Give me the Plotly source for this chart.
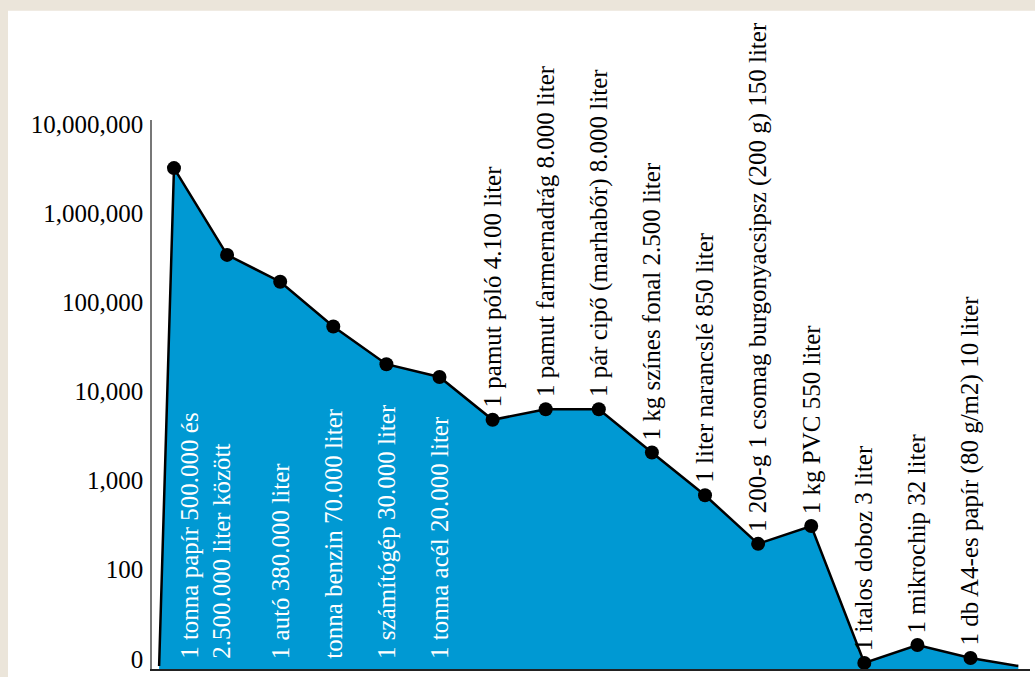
import math
import plotly.graph_objects as go

# ---- data -------------------------------------------------------------
items = [
    "1 tonna papír", "1 autó", "tonna benzin", "1 számítógép", "1 tonna acél",
    "1 tonna acél (2)", "1 pamut póló", "1 pamut farmernadrág", "1 pár cipő",
    "1 kg színes fonal", "1 liter narancslé", "1 csomag burgonyacsipsz",
    "1 kg PVC", "1 italos doboz", "1 mikrochip", "1 db A4-es papír",
]
water_liters = [3200000, 340000, 170000, 53500, 20200, 14500, 4800, 6300,
                6300, 2060, 684, 195, 309, 9, 14.3, 10.2]

tick_values = [10, 100, 1000, 10000, 100000, 1000000, 10000000]
tick_labels = ["0", "100", "1,000", "10,000", "100,000", "1,000,000", "10,000,000"]

inside_labels = [
    "1 tonna papír 500.000 és<br>2.500.000 liter között",
    "1 autó 380.000 liter",
    "tonna benzin 70.000 liter",
    "1 számítógép 30.000 liter",
    "1 tonna acél 20.000 liter",
]
outside_labels = [
    "1 pamut póló 4.100 liter",
    "1 pamut farmernadrág 8.000 liter",
    "1 pár cipő (marhabőr) 8.000 liter",
    "1 kg színes fonal 2.500 liter",
    "1 liter narancslé 850 liter",
    "1 200-g 1 csomag burgonyacsipsz (200 g) 150 liter",
    "1 kg PVC 550 liter",
    "1 italos doboz 3 liter",
    "1 mikrochip 32 liter",
    "1 db A4-es papír (80 g/m2) 10 liter",
]

# ---- layout constants ---------------------------------------------------
FONT = "Liberation Serif, Times New Roman, serif"
BLUE = "#0099D3"
BEIGE = "#EBE5DA"
Y_LOG_MIN, Y_LOG_MAX = 0.886, 7.0445
X_MIN, X_MAX = -0.414, 16.12
AREA_START, AREA_END = -0.28, 15.9
OUTLINE_BASE = 10 ** 0.92
FILL_BASE = 10 ** Y_LOG_MIN

xs = list(range(len(water_liters)))

fig = go.Figure()

# filled area
fig.add_trace(go.Scatter(
    x=[AREA_START] + xs + [AREA_END, AREA_END, AREA_START],
    y=[OUTLINE_BASE] + water_liters + [OUTLINE_BASE, FILL_BASE, FILL_BASE],
    fill="toself", fillcolor=BLUE, mode="lines", line=dict(width=0),
    hoverinfo="skip",
))
# outline
fig.add_trace(go.Scatter(
    x=[AREA_START] + xs + [AREA_END],
    y=[OUTLINE_BASE] + water_liters + [OUTLINE_BASE],
    mode="lines", line=dict(color="black", width=2.5),
    hoverinfo="skip",
))
# markers
fig.add_trace(go.Scatter(
    x=xs, y=water_liters, mode="markers",
    marker=dict(color="black", size=14),
    text=items, hoverinfo="text+y",
))

annotations = []
# labels inside the area (white), anchored at the bottom of the plot
inside_x = [0.6, 2, 3, 4, 5]
for xv, lab in zip(inside_x, inside_labels):
    annotations.append(dict(
        x=xv, y=0, xref="x", yref="paper", text=lab, showarrow=False,
        textangle=-90, xanchor="center", yanchor="bottom", yshift=8,
        align="left",
        font=dict(family=FONT, size=25, color="white"),
    ))
# labels above the points (black); log axis -> annotation y in log10 units
for i, lab in enumerate(outside_labels):
    idx = len(water_liters) - len(outside_labels) + i
    annotations.append(dict(
        x=idx, y=math.log10(water_liters[idx]), xref="x", yref="y", text=lab,
        showarrow=False, textangle=-90, xanchor="center", yanchor="bottom",
        yshift=10, font=dict(family=FONT, size=25, color="black"),
    ))

fig.update_layout(
    width=1035, height=677,
    margin=dict(l=152, r=5, t=120, b=4),
    paper_bgcolor=BEIGE, plot_bgcolor="white",
    showlegend=False,
    font=dict(family=FONT, size=25, color="black"),
    annotations=annotations,
    shapes=[dict(
        type="rect", xref="paper", yref="paper", layer="below",
        x0=(8 - 152) / 878, x1=1.2, y0=-0.1, y1=(673 - 10) / 553,
        fillcolor="white", line=dict(width=0),
    )],
    xaxis=dict(range=[X_MIN, X_MAX], showgrid=False, zeroline=False,
               showticklabels=False, ticks="", showline=True,
               linecolor="#222", linewidth=2),
    yaxis=dict(type="log", range=[Y_LOG_MIN, Y_LOG_MAX], showgrid=False,
               zeroline=False, tickvals=tick_values, ticktext=tick_labels,
               ticks="", showline=True, linecolor="#777", linewidth=1.5,
               ticklabelstandoff=2,
               tickfont=dict(family=FONT, size=25, color="black")),
)

fig.write_html(
    "out.html",
    config={"displayModeBar": False},
    post_script="document.body.style.margin='0';document.body.style.background='%s';" % BEIGE,
)
